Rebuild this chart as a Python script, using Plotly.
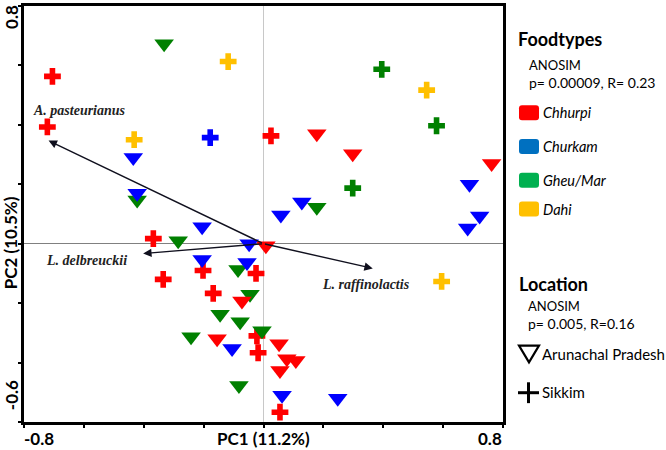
import plotly.graph_objects as go

# PCA scores (PC1, PC2)
# Chhurpi
chhurpi_ap_x = [0.008, -0.072, -0.155, 0.052, 0.078, 0.108, 0.055, 0.178, 0.298, 0.762]
chhurpi_ap_y = [-0.007, -0.193, -0.320, -0.337, -0.387, -0.393, -0.427, 0.370, 0.303, 0.270]
chhurpi_sk_x = [-0.705, -0.722, -0.368, -0.202, -0.335, -0.025, -0.168, -0.022, -0.018, 0.055, 0.025]
chhurpi_sk_y = [0.563, 0.393, 0.017, -0.090, -0.120, -0.100, -0.167, -0.310, -0.367, -0.567, 0.363]
# Churkam
churkam_ap_x = [-0.435, -0.422, -0.205, -0.048, -0.205, -0.055, -0.105, 0.062, 0.248,
                0.688, 0.128, 0.058, 0.722, 0.682]
churkam_ap_y = [0.290, 0.170, 0.057, 0.000, -0.053, -0.063, -0.353, -0.510, -0.520,
                0.200, 0.140, 0.097, 0.093, 0.053]
churkam_sk_x = [-0.178]
churkam_sk_y = [0.357]
# Gheu/Mar
gheu_ap_x = [-0.332, -0.422, -0.285, -0.085, -0.045, -0.145, -0.078, -0.242, -0.005, -0.082, 0.178]
gheu_ap_y = [0.673, 0.147, 0.010, -0.087, -0.170, -0.237, -0.263, -0.313, -0.293, -0.477, 0.123]
gheu_sk_x = [0.395, 0.578, 0.298]
gheu_sk_y = [0.587, 0.397, 0.187]
# Dahi
dahi_sk_x = [-0.118, -0.432, 0.545, 0.595]
dahi_sk_y = [0.613, 0.350, 0.517, -0.127]

# species loadings (arrow tips) and their labels
species = ["A. pasteurianus", "L. delbreuckii", "L. raffinolactis"]
species_x = [-0.718, -0.402, 0.365]
species_y = [0.347, -0.033, -0.083]
label_x = [-0.615, -0.592, 0.342]
label_y = [0.450, -0.057, -0.137]

foodtypes = ["Chhurpi", "Churkam", "Gheu/Mar", "Dahi"]
legend_colors = ["#FF0000", "#0070C0", "#00B050", "#FFC000"]
locations = ["Arunachal Pradesh", "Sikkim"]

RED, BLUE, GREEN, GOLD = "#FF0000", "#0000FF", "#008000", "#FFC000"
SANS = "Lato, Liberation Sans, sans-serif"

fig = go.Figure()

def add_points(xs, ys, color, symbol):
    size = 17 if symbol == "triangle-down" else 14
    fig.add_trace(go.Scatter(
        x=xs, y=ys, mode="markers",
        marker=dict(symbol=symbol, size=size, color=color, line=dict(width=0)),
        showlegend=False, hoverinfo="skip"
    ))

# drawing order matters for the overlaps
add_points(chhurpi_sk_x, chhurpi_sk_y, RED, "cross")
add_points(gheu_ap_x, gheu_ap_y, GREEN, "triangle-down")
add_points(chhurpi_ap_x, chhurpi_ap_y, RED, "triangle-down")
add_points(churkam_ap_x, churkam_ap_y, BLUE, "triangle-down")
add_points(churkam_sk_x, churkam_sk_y, BLUE, "cross")
add_points(gheu_sk_x, gheu_sk_y, GREEN, "cross")
add_points(dahi_sk_x, dahi_sk_y, GOLD, "cross")

# loading arrows from the origin
for name, sx, sy, lx, ly in zip(species, species_x, species_y, label_x, label_y):
    fig.add_annotation(x=sx, y=sy, ax=0, ay=0, axref="x", ayref="y", xref="x", yref="y",
                       text="", showarrow=True, arrowhead=2, arrowsize=1.2,
                       arrowwidth=1.4, arrowcolor="#10101e", standoff=0)
    fig.add_annotation(x=lx, y=ly, xref="x", yref="y", text="<b><i>" + name + "</i></b>",
                       showarrow=False, font=dict(family="Liberation Serif", size=14, color="#222222"))

# plot area in pixels: left 24, right 503, top 3, bottom 422
L, R, T, B = 24, 503, 3, 422

def px(p):
    return (p - L) / (R - L)

def py(p):
    return (B - p) / (B - T)

def text_at(xp, yp, text, size=12, bold=False, italic=False, angle=0, anchor="left"):
    if bold:
        text = "<b>" + text + "</b>"
    if italic:
        text = "<i>" + text + "</i>"
    fig.add_annotation(x=px(xp), y=py(yp), xref="paper", yref="paper", text=text,
                       showarrow=False, xanchor=anchor, yanchor="middle", textangle=angle,
                       font=dict(family=SANS, size=size, color="black"))

def rounded_rect(x0, y0, x1, y1, r=3):
    pts = [("M", x0 + r, y0), ("L", x1 - r, y0), ("Q", x1, y0, x1, y0 + r),
           ("L", x1, y1 - r), ("Q", x1, y1, x1 - r, y1), ("L", x0 + r, y1),
           ("Q", x0, y1, x0, y1 - r), ("L", x0, y0 + r), ("Q", x0, y0, x0 + r, y0)]
    path = ""
    for p in pts:
        cmd, coords = p[0], p[1:]
        pairs = [f"{px(coords[i]):.5f},{py(coords[i + 1]):.5f}" for i in range(0, len(coords), 2)]
        path += cmd + " ".join(pairs) + " "
    return path + "Z"

# axis tick labels and titles
text_at(12, 14, "0.8", size=17, bold=True, angle=-90, anchor="center")
text_at(11, 395, "-0.6", size=17, bold=True, angle=-90, anchor="center")
text_at(10, 242, "PC2 (10.5%)", size=17, bold=True, angle=-90, anchor="center")
text_at(22, 439, "-0.8", size=17, bold=True)
text_at(263, 439, "PC1 (11.2%)", size=17, bold=True, anchor="center")
text_at(504, 439, "0.8", size=17, bold=True, anchor="right")

# Foodtypes legend
text_at(516, 36, "Foodtypes", size=18, bold=True)
text_at(527, 62, "ANOSIM", size=13)
text_at(527, 80, "p= 0.00009, R= 0.23", size=14)
patch_tops = [103, 137, 171, 200]
for name, col, top in zip(foodtypes, legend_colors, patch_tops):
    fig.add_shape(type="path", path=rounded_rect(519, top, 539, top + 15), xref="paper", yref="paper",
                  fillcolor=col, line=dict(width=0))
    text_at(541, top + 7.5, name, size=14.5, italic=True)

# Location legend
text_at(517, 283, "Location", size=18, bold=True)
text_at(526, 305, "ANOSIM", size=13)
text_at(526, 323, "p= 0.005, R=0.16", size=14)
tri = f"M{px(519)},{py(345)} L{px(539)},{py(345)} L{px(529)},{py(362)} Z"
fig.add_shape(type="path", path=tri, xref="paper", yref="paper", line=dict(color="black", width=2.2))
text_at(540, 354, locations[0], size=15)
fig.add_shape(type="line", x0=px(518), x1=px(539), y0=py(392.5), y1=py(392.5), xref="paper", yref="paper",
              line=dict(color="black", width=3))
fig.add_shape(type="line", x0=px(528.5), x1=px(528.5), y0=py(382), y1=py(403), xref="paper", yref="paper",
              line=dict(color="black", width=3))
text_at(540, 392, locations[1], size=15)

axis_common = dict(showgrid=False, showticklabels=False, ticks="outside", ticklen=3, tickwidth=1.5,
                   tickcolor="black", showline=True, linewidth=2.5, linecolor="black", mirror=True,
                   zeroline=True, zerolinewidth=1)

fig.update_layout(
    width=666, height=450,
    margin=dict(l=L, r=666 - R, t=T, b=450 - B),
    paper_bgcolor="white", plot_bgcolor="white",
    showlegend=False,
    xaxis=dict(range=[-0.8, 0.8], tickvals=[-0.8, -0.6, -0.4, -0.2, 0, 0.2, 0.4, 0.6, 0.8],
               zerolinecolor="#C8C8C8", **axis_common),
    yaxis=dict(range=[-0.6, 0.8], tickvals=[-0.6, -0.4, -0.2, 0, 0.2, 0.4, 0.6, 0.8],
               zerolinecolor="#808080", **axis_common),
)

# the page's default body margin would shift the chart
fig.write_html("out.html", config={"displayModeBar": False},
               post_script="document.body.style.margin='0px';")
